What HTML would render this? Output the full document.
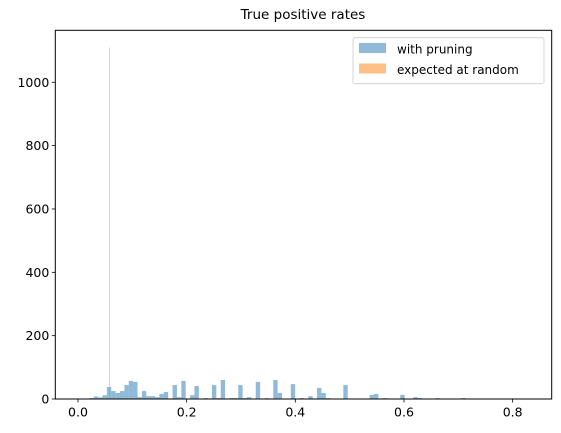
<!DOCTYPE html>
<html><head><meta charset="utf-8"><style>
body{margin:0;background:#fff}
svg{display:block;font-family:"DejaVu Sans","Liberation Sans",sans-serif}
</style></head><body>
<svg id="chart" width="561" height="433" viewBox="0 0 561 433">
<text x="303" y="19" font-size="13.5" text-anchor="middle">True positive rates</text>
<g id="bars"></g>
<g id="axes"></g>
<g>
<rect x="353" y="37.7" width="191" height="46" rx="2" fill="#fff" fill-opacity="0.8" stroke="#ccc" stroke-width="0.8"/>
<rect x="359" y="43" width="27" height="10" fill="#1f77b4" fill-opacity="0.5"/>
<text x="397" y="53.5" font-size="12">with pruning</text>
<rect x="359" y="63.5" width="27" height="10" fill="#ff7f0e" fill-opacity="0.5"/>
<text x="397" y="74" font-size="12">expected at random</text>
</g>
</svg>
<script>
const binStart = 0.0209;
const binWidth = 0.00806;
const pruningCounts = [3,8,5,12,38,25,19,25,44,57,54,6,25,9,9,6,16,22,0,44,6,57,0,12,41,0,3,0,44,3,60,0,3,3,44,3,6,0,54,0,3,0,60,19,0,0,47,0,3,0,9,0,35,19,3,0,0,0,44,0,0,0,0,0,13,16,0,3,0,0,0,13,0,0,6,3,0,0,0,3,0,0,0,0,0,3];
const randomBin = [0.0570, 0.0585];
const randomCount = [1110];
const xTicks = [0.0,0.2,0.4,0.6,0.8];
const xTickLabels = ["0.0","0.2","0.4","0.6","0.8"];
const yTicks = [0,200,400,600,800,1000];
const yTickLabels = ["0","200","400","600","800","1000"];

const L=55.3,R=551.7,T=30.3,B=399;
const X=v=>78+v*543.3;
const Y=c=>B-c*0.3167;
const NS='http://www.w3.org/2000/svg';
function mk(tag,attrs,parent){const e=document.createElementNS(NS,tag);for(const k in attrs)e.setAttribute(k,attrs[k]);parent.appendChild(e);return e;}
const bars=document.getElementById('bars');
pruningCounts.forEach((c,i)=>{
  if(c<=0)return;
  const x0=X(binStart+i*binWidth),x1=X(binStart+(i+1)*binWidth);
  const r=mk('rect',{x:x0,y:Y(c),width:x1-x0,height:B-Y(c),fill:'#1f77b4','fill-opacity':0.5},bars);
  
  
});
randomCount.forEach((c,i)=>{
  const r=mk('rect',{x:X(randomBin[0]),y:Y(c),width:X(randomBin[1])-X(randomBin[0]),height:B-Y(c),fill:'#ff7f0e','fill-opacity':0.5},bars);
  
  
});
const ax=document.getElementById('axes');
const fr=mk('rect',{x:L,y:T,width:R-L,height:B-T,fill:'none',stroke:'#000','stroke-width':1},ax);


xTicks.forEach((v,i)=>{
  mk('line',{x1:X(v),x2:X(v),y1:B,y2:B+3.5,stroke:'#000','stroke-width':0.8},ax);
  const t=mk('text',{x:X(v),y:B+17.5,'font-size':12.5,'text-anchor':'middle'},ax);
  t.textContent=xTickLabels[i];
  
  
});
yTicks.forEach((v,i)=>{
  mk('line',{x1:L-3.5,x2:L,y1:Y(v),y2:Y(v),stroke:'#000','stroke-width':0.8},ax);
  const t=mk('text',{x:L-6,y:Y(v)+4.5,'font-size':12.5,'text-anchor':'end'},ax);
  t.textContent=yTickLabels[i];
  
  
});
</script>
</body></html>
